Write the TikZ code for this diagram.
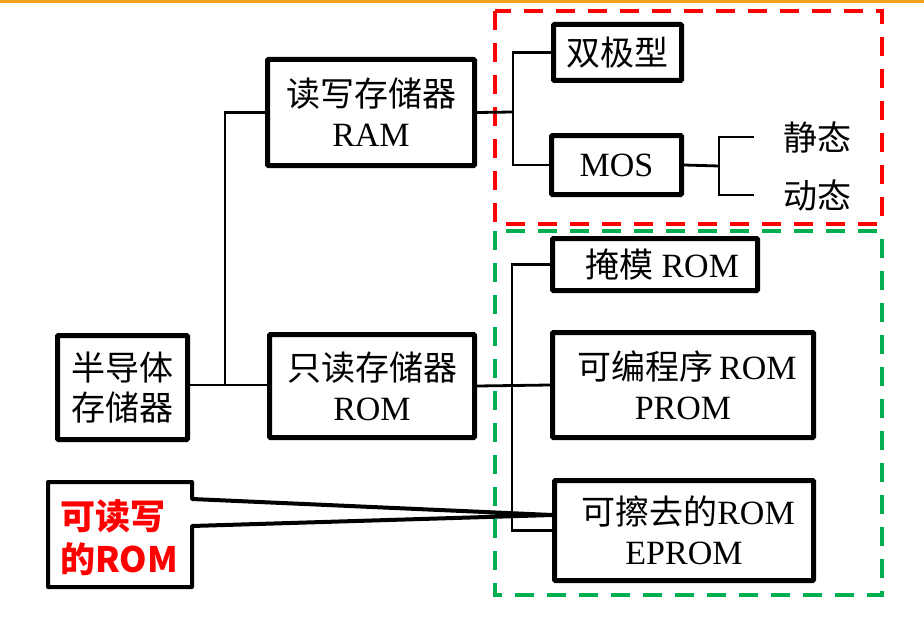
\documentclass[tikz,border=0pt]{standalone}
\usepackage{fontspec}
\setmainfont{Liberation Serif}
\newfontfamily\cjk{Noto Sans CJK SC}
\definecolor{topor}{HTML}{F5A01A}
\definecolor{dred}{HTML}{FF0000}
\definecolor{dgreen}{HTML}{00B050}
\tikzset{
  box/.style={draw, line width=5pt, rounded corners=1pt, inner sep=0pt, align=center, font=\fontsize{34}{42}\selectfont},
  wire/.style={line width=2.8pt},
  group/.style={line width=4pt, dash pattern=on 19pt off 13pt},
  lbl/.style={inner sep=0pt, font=\fontsize{34}{42}\selectfont\cjk},
  calltext/.style={inner sep=0pt, align=left, text=red, font=\fontsize{35}{43}\selectfont\cjk\bfseries},
}
\begin{document}
\begin{tikzpicture}[x=1pt,y=-1pt]
\useasboundingbox (0,0) rectangle (924,618);
\fill[white] (0,0) rectangle (924,618);
\fill[topor] (0,0) rectangle (924,3);

% group frames
\draw[group, dred] (495,11) rectangle (882,224);
\draw[group, dgreen] (495,231) rectangle (882,595);

% boxes
\node[box, minimum width=130pt, minimum height=104pt] (semi) at (122.5,387.5) {{\cjk 半导体}\\[-2pt]{\cjk 存储器}};
\node[box, minimum width=207pt, minimum height=106pt] (ram) at (371,112.5) {{\cjk 读写存储器}\\[-2pt]RAM};
\node[box, minimum width=205pt, minimum height=103pt] (rom) at (372,386) {{\cjk 只读存储器}\\[-2pt]ROM};
\node[box, minimum width=128pt, minimum height=56pt] (bip) at (617.5,52.5) {\cjk 双极型};
\node[box, minimum width=130pt, minimum height=59pt] (mos) at (616.5,165) {MOS};
\node[box, minimum width=205pt, minimum height=52pt] (mask) at (655,264.5) {\hspace*{14pt}{\cjk 掩模} ROM};
\node[box, minimum width=261pt, minimum height=105pt] (prom) at (683,385) {\hspace*{8pt}{\cjk 可编程序}\,ROM\\[-2pt]PROM};
\node[box, minimum width=259pt, minimum height=100pt] (eprom) at (684,530.5) {\hspace*{8pt}{\cjk 可擦去的}ROM\\[-2pt]EPROM};

\node[lbl] (static) at (817,138) {静态};
\node[lbl] (dynamic) at (817,195) {动态};

% connectors
\coordinate (j1) at (225,385);
\draw[wire] (semi.east |- j1) -- (rom.west |- j1);
\draw[wire] (j1) |- (ram.west);

\coordinate (j2) at (513,112);
\draw[wire] (ram.east) -- (j2);
\draw[wire] (bip.west) -| (j2) |- (mos.west);

\coordinate (bm) at (719,166);
\coordinate (bt) at (754,137);
\coordinate (bb) at (754,195);
\draw[wire] (mos.east) -- (bm);
\draw[wire] (bt) -| (bm) |- (bb);

\coordinate (j3) at (512,385);
\draw[wire] (rom.east) -- (prom.west);
\draw[wire] (mask.west) -| (j3) |- (eprom.west);

% callout
\coordinate (tip) at (552,515);
\draw[line width=4pt, line join=round] (48,482) -- (192,482) -- (192,499) -- (tip) -- (192,526) -- (192,587) -- (48,587) -- cycle;
\node[calltext, anchor=west] (ct) at (60,538) {可读写\\的ROM};
\end{tikzpicture}
\end{document}
